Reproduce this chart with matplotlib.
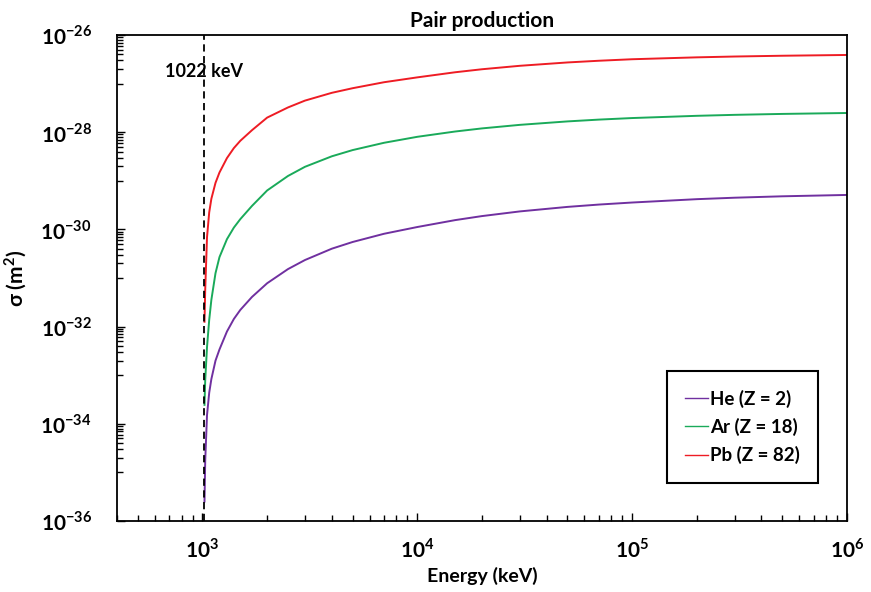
import matplotlib
matplotlib.use("Agg")
import matplotlib.pyplot as plt
import numpy as np
from matplotlib.ticker import FixedLocator, FuncFormatter, NullFormatter

plt.rcParams['font.family'] = ['Lato', 'DejaVu Sans']
plt.rcParams['mathtext.fontset'] = 'custom'
plt.rcParams['mathtext.rm'] = 'Lato'
plt.rcParams['mathtext.bf'] = 'Lato:bold'

# energies (keV) and log10 of cross-section (m^2)
energy = [1022, 1030, 1050, 1075, 1100, 1150, 1200, 1300, 1400, 1500, 1700,
          2000, 2500, 3000, 4000, 5000, 7000,
          1e4, 1.5e4, 2e4, 3e4, 5e4, 7e4,
          1e5, 2e5, 3e5, 5e5, 1e6]
log_he = [-35.600, -34.750, -33.820, -33.360, -33.080, -32.700, -32.470,
          -32.101, -31.843, -31.657, -31.390,
          -31.108, -30.817, -30.630, -30.397, -30.259, -30.090,
          -29.951, -29.809, -29.726, -29.630, -29.537, -29.489,
          -29.447, -29.378, -29.348, -29.319, -29.291]
log_ar = [-33.610, -33.100, -32.420, -31.860, -31.450, -30.900, -30.570,
          -30.201, -29.963, -29.789, -29.517,
          -29.199, -28.901, -28.712, -28.496, -28.368, -28.218,
          -28.095, -27.986, -27.922, -27.849, -27.778, -27.741,
          -27.709, -27.663, -27.643, -27.624, -27.605]
log_pb = [-31.900, -31.230, -30.160, -29.649, -29.370, -29.042, -28.829,
          -28.533, -28.327, -28.177, -27.959,
          -27.700, -27.491, -27.350, -27.190, -27.095, -26.972,
          -26.872, -26.767, -26.705, -26.634, -26.565, -26.530,
          -26.499, -26.460, -26.443, -26.427, -26.411]

labels = ['He (Z = 2)', 'Ar (Z = 18)', 'Pb (Z = 82)']
colors = ['#7030a0', '#1aaa5a', '#ee1c24']

fig = plt.figure(figsize=(8.71, 5.92), dpi=100)
ax = fig.add_axes([0.1343, 0.1199, 0.8381, 0.8210])

for logs, lab, col in zip([log_he, log_ar, log_pb], labels, colors):
    ax.plot(energy, 10.0 ** np.array(logs), color=col, lw=1.4, label=lab)

# threshold line
ax.axvline(1022, color='black', ls=(0, (4, 2.5)), lw=1.3)
ax.text(1022, 10 ** -26.76, '1022 keV', ha='center', va='center',
        fontsize=13, fontweight='bold')

ax.set_xscale('log')
ax.set_yscale('log')
ax.set_xlim(400, 1e6)
ax.set_ylim(1e-36, 1e-26)

# y ticks: labels every two decades, minor ticks in the odd decades
ymaj = [10.0 ** e for e in range(-36, -25, 2)]
ymin = [k * 10.0 ** e for e in range(-35, -26, 2) for k in range(1, 10)]
ax.yaxis.set_major_locator(FixedLocator(ymaj))
ax.yaxis.set_minor_locator(FixedLocator(ymin))
ax.yaxis.set_minor_formatter(NullFormatter())

xmaj = [1e3, 1e4, 1e5, 1e6]
xmin = [k * 10.0 ** e for e in range(2, 6) for k in range(2, 10)]
ax.xaxis.set_major_locator(FixedLocator(xmaj))
ax.xaxis.set_minor_locator(FixedLocator(xmin))
ax.xaxis.set_minor_formatter(NullFormatter())


def pow_label(v, pos):
    e = int(round(np.log10(v)))
    return '10$^{\\mathbf{%d}}$' % e


ax.xaxis.set_major_formatter(FuncFormatter(pow_label))
ax.yaxis.set_major_formatter(FuncFormatter(pow_label))

ax.tick_params(which='both', direction='in', top=False, right=False,
               labelsize=15, width=1.0)
ax.tick_params(which='major', length=6)
ax.tick_params(which='minor', length=4)
ax.tick_params(axis='x', pad=12)
ax.tick_params(axis='y', pad=18)
for t in ax.get_xticklabels() + ax.get_yticklabels():
    t.set_fontweight('bold')
for s in ax.spines.values():
    s.set_linewidth(1.3)

ax.set_title('Pair production', fontsize=15, fontweight='bold', pad=6)
ax.set_xlabel('Energy (keV)', fontsize=14, fontweight='bold', labelpad=4)
ax.set_ylabel('σ (m$^{\\mathbf{2}}$)', fontsize=15, fontweight='bold',
              labelpad=8)

leg = ax.legend(loc='lower left', bbox_to_anchor=(0.753, 0.078),
                borderaxespad=0, fancybox=False, framealpha=1,
                edgecolor='black', handlelength=1.2, handletextpad=0.1,
                borderpad=1.0, labelspacing=0.55,
                prop={'size': 13.5, 'weight': 'bold'})
leg.get_frame().set_linewidth(1.5)
for ln in leg.get_lines():
    ln.set_linewidth(1.0)

fig.savefig('out.png', dpi=100)
